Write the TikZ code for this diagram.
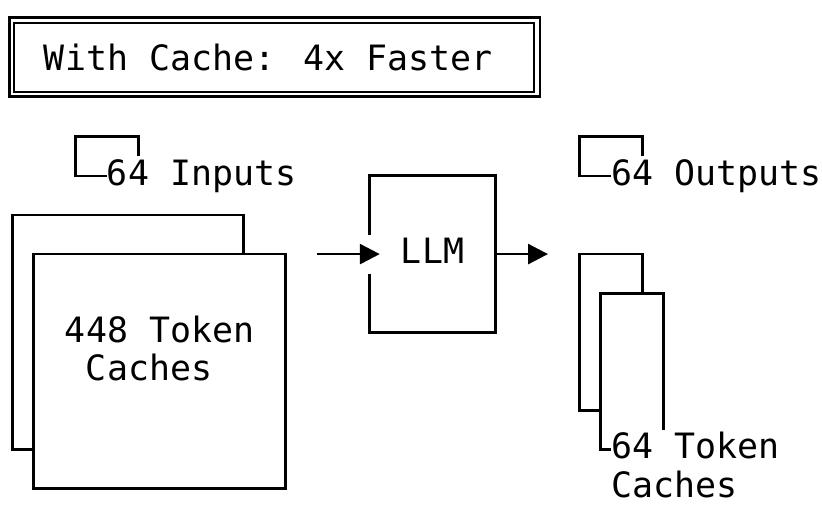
\documentclass[tikz,border=0pt]{standalone}
\usepackage{fontspec}
\newfontfamily\monofont{DejaVu Sans Mono}
\usetikzlibrary{arrows.meta}

\begin{document}
\begin{tikzpicture}[x=21pt,y=-39.07pt,
  line/.style={line width=2.8pt,line join=miter},
  arr/.style={line,-{Triangle[length=20pt,width=20pt]}},
  txt/.style={anchor=base west,inner sep=0pt,outer sep=0pt,font=\monofont\fontsize{34.9pt}{39.07pt}\selectfont}]
\useasboundingbox[fill=white] (-0.595,-0.503) rectangle (38.548,12.551);

\draw[line width=2.8pt] (-0.143,-0.047) rectangle (25.119,1.959);
\draw[line width=2pt] (0.086,0.086) rectangle (24.857,1.847);
\node[txt] (title) at (1.5,1.29) {With Cache: 4x Faster};

\draw[line] (6,3.5) |- (3,3) |- (4.5,4);
\node[txt] (inputs) at (4.5,4.24) {64 Inputs};

\draw[line] (1,11) -| (0,5) -| (11,6);
\draw[line] (1,6) rectangle (13,12);
\node[txt] (cachein1) at (2.5,8.26) {448 Token};
\node[txt] (cachein2) at (3.5,9.24) {Caches};

\node[minimum width=126pt,minimum height=156.28pt,inner sep=0pt] (llm) at (20,6) {};
\draw[line] ([yshift=19.5pt]llm.west) |- (llm.north east) |- (llm.south west) -- ([yshift=-19.5pt]llm.west);
\node[txt] (llmlabel) at (18.5,6.24) {LLM};

\coordinate (intail) at (14.5,6);
\coordinate (outhead) at (25.5,6);
\draw[arr] (intail) -- ([xshift=10.5pt]llm.west);
\draw[arr] (llm.east) -- (outhead);

\draw[line] (30,3.5) |- (27,3) |- (28.5,4);
\node[txt] (outputs) at (28.5,4.24) {64 Outputs};

\draw[line] (28,10) -| (27,6) -| (30,7);
\draw[line] (31,10.5) |- (28,7) |- (28.5,11);
\node[txt] (cacheout1) at (28.5,11.24) {64 Token};
\node[txt] (cacheout2) at (28.5,12.24) {Caches};
\end{tikzpicture}
\end{document}
